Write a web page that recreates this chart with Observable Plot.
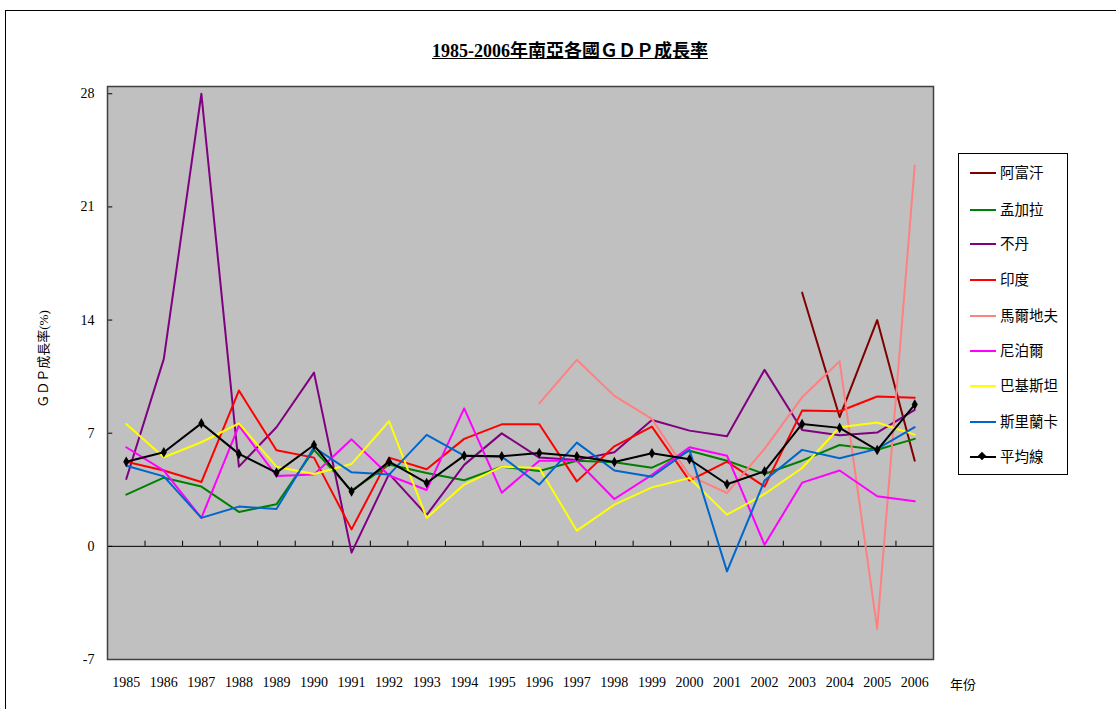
<!DOCTYPE html>
<html><head><meta charset="utf-8">
<script src="https://cdn.jsdelivr.net/npm/d3@7"></script>
<script src="https://cdn.jsdelivr.net/npm/@observablehq/plot@0.6"></script>
<style>
body{margin:0;background:#fff;overflow:hidden;}
#wrap{position:relative;width:1116px;height:709px;overflow:hidden;}
#outer{position:absolute;left:5px;top:10px;width:1200px;height:800px;border-left:1px solid #000;border-top:1px solid #000;}
#chart{position:absolute;left:0;top:0;}
#title{position:absolute;left:0;width:1140px;top:36px;text-align:center;font-family:"Liberation Serif","Noto Sans CJK TC",serif;font-size:18px;font-weight:bold;text-decoration:underline;}
#ylab{position:absolute;left:42px;top:359px;transform:translate(-50%,-50%) rotate(-90deg);font-family:"Liberation Serif","Noto Sans CJK TC",serif;font-size:13px;white-space:nowrap;}
#xlab{position:absolute;left:950px;top:674px;font-family:"Noto Sans CJK TC",sans-serif;font-size:13px;}
#legend{position:absolute;left:958px;top:153px;width:108px;height:320px;border:1px solid #000;background:#fff;}
.item{position:absolute;left:0;height:20px;width:108px;}
.item .sw{position:absolute;left:11px;top:9px;width:26px;height:2px;}
.item .lb{position:absolute;left:41px;top:-1px;font-family:"Noto Sans CJK TC",sans-serif;font-size:14.5px;line-height:20px;white-space:nowrap;}
.item .mk{position:absolute;left:20px;top:6px;width:6px;height:6px;background:#000;transform:rotate(45deg);}
</style></head><body><div id="wrap"><div id="outer"></div><div id="chart"></div>
<div id="title">1985-2006年南亞各國ＧＤＰ成長率</div>
<div id="ylab">ＧＤＰ成長率(%)</div>
<div id="xlab">年份</div>
<div id="legend"></div>
</div>
<script>
const years = [1985,1986,1987,1988,1989,1990,1991,1992,1993,1994,1995,1996,1997,1998,1999,2000,2001,2002,2003,2004,2005,2006];
const yTicks = [-7,0,7,14,21,28];
const seriesNames = ["阿富汗","孟加拉","不丹","印度","馬爾地夫","尼泊爾","巴基斯坦","斯里蘭卡","平均線"];
const seriesColors = ["#800000","#008000","#800080","#FF0000","#FF8080","#FF00FF","#FFFF00","#0066CC","#000000"];
const afghanistan = [null,null,null,null,null,null,null,null,null,null,null,null,null,null,null,null,null,null,15.7,8.0,14.0,5.3];
const bangladesh = [3.2,4.25,3.7,2.13,2.6,5.97,3.45,5.06,4.54,4.09,4.93,4.66,5.3,5.2,4.87,5.92,5.3,4.48,5.3,6.27,5.98,6.65];
const bhutan = [4.17,11.6,28.0,4.93,7.37,10.75,-0.39,4.48,1.94,5.04,6.99,5.49,5.35,5.82,7.82,7.16,6.81,10.92,7.2,6.87,7.04,8.44];
const india = [5.24,4.69,3.98,9.64,5.94,5.49,1.05,5.49,4.77,6.65,7.55,7.55,4.02,6.19,7.41,4.07,5.24,3.7,8.4,8.36,9.27,9.2];
const maldives = [null,null,null,null,null,null,null,null,null,null,null,8.85,11.54,9.31,7.89,4.38,3.3,6.03,9.22,11.45,-5.11,23.56];
const nepal = [6.13,4.69,1.76,7.47,4.36,4.44,6.62,4.38,3.49,8.54,3.32,5.3,5.3,2.93,4.42,6.13,5.61,0.1,3.94,4.69,3.1,2.79];
const pakistan = [7.57,5.51,6.44,7.61,4.93,4.48,5.1,7.74,1.76,3.82,4.93,4.85,0.97,2.58,3.65,4.23,1.96,3.24,4.85,7.37,7.66,6.91];
const sriLanka = [4.99,4.33,1.76,2.46,2.31,6.13,4.58,4.44,6.9,5.61,5.55,3.82,6.42,4.69,4.31,5.97,-1.55,4.07,5.97,5.45,6.03,7.37];
const average = [5.24,5.82,7.61,5.72,4.56,6.27,3.39,5.24,3.92,5.61,5.57,5.78,5.57,5.22,5.76,5.39,3.84,4.64,7.57,7.33,5.96,8.77];

const allSeries = [afghanistan,bangladesh,bhutan,india,maldives,nepal,pakistan,sriLanka,average];
const rows = [];
allSeries.forEach((vals,si)=>vals.forEach((v,i)=>{ if(v!==null) rows.push({series:seriesNames[si], year:years[i], value:v}); }));
const boundaries = years.slice(1).map(y=>y-0.5);
const x0 = years[0]-0.5, x1 = years[years.length-1]+0.5;

const lineMarks = seriesNames.map((name,si)=>Plot.line(rows.filter(r=>r.series===name),{x:"year",y:"value",stroke:seriesColors[si],strokeWidth:2}));

const chart = Plot.plot({
  width:1116, height:709,
  marginLeft:107, marginRight:183, marginTop:86, marginBottom:50,
  style:{fontFamily:'"Liberation Serif","Times New Roman",serif',fontSize:"14px",background:"transparent",color:"#000"},
  x:{type:"linear",domain:[x0,x1],ticks:years,tickFormat:d=>String(d),tickSize:0,tickPadding:18,label:null},
  y:{domain:[-7,28.45],ticks:yTicks,tickFormat:d=>String(d),tickSize:0,tickPadding:13,label:null},
  marks:[
    Plot.frame({fill:"#c0c0c0"}),
    Plot.ruleY([0],{stroke:"#000",strokeWidth:1}),
    Plot.ruleX(boundaries,{x:d=>d,y1:0,y2:0.32,stroke:"#000",strokeWidth:1}),
    Plot.ruleY(yTicks,{y:d=>d,x1:x0,x2:x0+0.14,stroke:"#000",strokeWidth:1}),
    ...lineMarks,
    Plot.dot(rows.filter(r=>r.series==="平均線"),{x:"year",y:"value",symbol:"diamond",r:3.2,fill:"#000",stroke:"none"}),
    Plot.frame({stroke:"#404040",strokeWidth:1.5})
  ]
});
document.getElementById("chart").appendChild(chart);

const legend = document.getElementById("legend");
const legendY = [9,46,80,116,152,187,222,258,293];
seriesNames.forEach((name,si)=>{
  const it = document.createElement("div");
  it.className="item"; it.style.top = legendY[si]+"px";
  it.innerHTML = `<div class="sw" style="background:${seriesColors[si]}"></div>` + (si===8?'<div class="mk"></div>':'') + `<div class="lb">${name}</div>`;
  legend.appendChild(it);
});
</script></body></html>
